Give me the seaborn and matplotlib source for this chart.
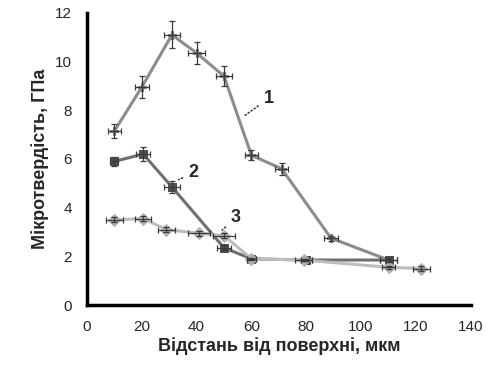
import numpy as np
import pandas as pd
import matplotlib
matplotlib.use("Agg")
import matplotlib.pyplot as plt
import seaborn as sns

# ---------------------------------------------------------------------------
# Data
# ---------------------------------------------------------------------------
x1 = [10, 20, 31, 40, 50, 60, 71, 89, 110]
y1 = [7.15, 8.95, 11.1, 10.35, 9.4, 6.15, 5.6, 2.75, 1.85]
xerr1 = [2.5, 2.5, 3.0, 3.0, 3.0, 2.5, 2.5, 2.5, 3.0]
yerr1 = [0.3, 0.45, 0.55, 0.45, 0.4, 0.2, 0.25, 0.1, 0.1]

x2 = [10, 20.5, 31, 50, 60, 80, 110]
y2 = [5.9, 6.2, 4.85, 2.35, 1.9, 1.85, 1.85]
xerr2 = [1.5, 2.5, 3.0, 2.5, 1.5, 2.0, 3.0]
yerr2 = [0.2, 0.3, 0.25, 0.1, 0.05, 0.05, 0.1]

x3 = [10, 20.5, 29, 41, 50, 60, 79, 110, 122]
y3 = [3.5, 3.55, 3.1, 2.95, 2.85, 1.9, 1.85, 1.55, 1.5]
xerr3 = [3.0, 3.0, 3.0, 4.0, 4.0, 1.5, 3.0, 2.5, 3.0]
yerr3 = [0.1, 0.1, 0.1, 0.1, 0.1, 0.05, 0.05, 0.05, 0.1]

series_names = ["1", "2", "3"]
line_colors = ["#8c8c8c", "#6f6f6f", "#bdbdbd"]
marker_colors = ["#7a7a7a", "#4f4f4f", "#b0b0b0"]
markers = ["P", "s", "D"]

x_ticks = list(range(0, 141, 20))
y_ticks = list(range(0, 13, 2))

x_label = "Відстань від поверхні, мкм"
y_label = "Мікротвердість, ГПа"

# ---------------------------------------------------------------------------
# Plot
# ---------------------------------------------------------------------------
sns.set_style("white")
plt.rcParams["font.family"] = ["Liberation Sans", "DejaVu Sans"]

df = pd.concat([
    pd.DataFrame({"x": x1, "y": y1, "s": "1"}),
    pd.DataFrame({"x": x2, "y": y2, "s": "2"}),
    pd.DataFrame({"x": x3, "y": y3, "s": "3"}),
], ignore_index=True)

fig = plt.figure(figsize=(4.94, 3.68), dpi=100)
ax = fig.add_axes([0.176, 0.171, 0.777, 0.794])

errs = [(x1, y1, xerr1, yerr1), (x2, y2, xerr2, yerr2), (x3, y3, xerr3, yerr3)]
for (xs, ys, xe, ye), col in zip(errs, marker_colors):
    ax.errorbar(xs, ys, xerr=xe, yerr=ye, fmt="none", ecolor="#3a3a3a",
                elinewidth=0.9, capsize=2, capthick=0.9, zorder=4)

sns.lineplot(data=df, x="x", y="y", hue="s", style="s",
             palette=dict(zip(series_names, line_colors)),
             markers=dict(zip(series_names, markers)), dashes=False,
             markersize=6, linewidth=2.2, sort=False, legend=False, ax=ax)
for line, mc in zip(ax.get_lines()[-3:], marker_colors):
    line.set_markerfacecolor(mc)
    line.set_markeredgecolor(mc)

# curve labels with leader lines
ax.annotate("1", xy=(56.5, 7.7), xytext=(64.5, 8.3), fontsize=13, fontweight="bold",
            arrowprops=dict(arrowstyle="-", linestyle=":", color="#222222", lw=1))
ax.annotate("2", xy=(32.5, 5.1), xytext=(37, 5.25), fontsize=13, fontweight="bold",
            arrowprops=dict(arrowstyle="-", linestyle=":", color="#222222", lw=1))
ax.annotate("3", xy=(48.5, 3.0), xytext=(52.5, 3.4), fontsize=13, fontweight="bold",
            arrowprops=dict(arrowstyle="-", linestyle=":", color="#222222", lw=1))

ax.set_xlim(0, 140)
ax.set_ylim(0, 12)
ax.set_xticks(x_ticks)
ax.set_yticks(y_ticks)
ax.set_xlabel(x_label, fontsize=13, fontweight="bold", labelpad=2)
ax.set_ylabel(y_label, fontsize=13, fontweight="bold", labelpad=4)
ax.tick_params(axis="both", labelsize=11, direction="inout", length=6, width=1.5,
               color="black", pad=8)
sns.despine(ax=ax)
for side in ["left", "bottom"]:
    ax.spines[side].set_linewidth(2.5)
    ax.spines[side].set_color("black")

fig.savefig("out.png", dpi=100)
